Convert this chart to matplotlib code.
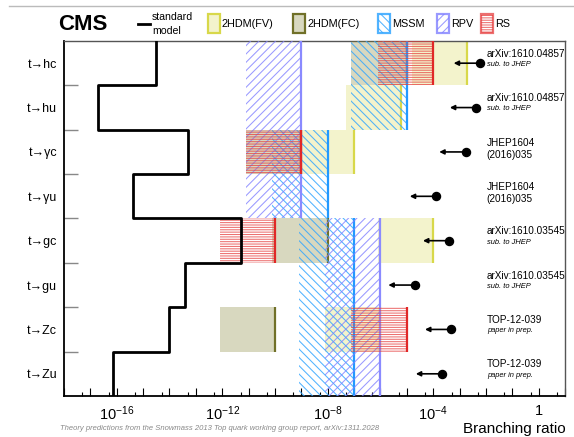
import numpy as np
import matplotlib.pyplot as plt
from matplotlib.patches import Rectangle
from matplotlib.lines import Line2D
from matplotlib.ticker import FixedLocator, FuncFormatter

plt.rcParams['font.family'] = ['Liberation Sans', 'DejaVu Sans']
plt.rcParams['mathtext.fontset'] = 'custom'
plt.rcParams['mathtext.rm'] = 'Liberation Sans'
plt.rcParams['mathtext.it'] = 'Liberation Sans:italic'
plt.rcParams['hatch.linewidth'] = 0.75

nan = np.nan

# decay channels, top to bottom
channels = ['t→hc', 't→hu', 't→γc', 't→γu', 't→gc', 't→gu', 't→Zc', 't→Zu']

# standard model predictions
sm = [3e-15, 2e-17, 5e-14, 4e-16, 5e-12, 4e-14, 1e-14, 7e-17]

# upper values of the BSM predictions (nan = no prediction)
fv = [2e-3, 6e-6, 1e-7, nan, 1e-4, nan, 1e-6, nan]
fc = [1e-5, nan, 1e-9, nan, 1e-8, nan, 1e-10, nan]
mssm = [1e-5, 1e-5, 1e-8, 1e-8, 1e-7, 1e-7, 1e-7, 1e-7]
rpv = [1e-9, 1e-9, 1e-9, 1e-9, 1e-6, 1e-6, 1e-6, 1e-6]
rs = [1e-4, nan, 1e-9, nan, 1e-10, nan, 1e-5, nan]

# CMS 95% CL limits
cms_limit = [6.0e-3, 4.3e-3, 1.7e-3, 1.3e-4, 4.1e-4, 2.0e-5, 4.9e-4, 2.2e-4]
refs = ['arXiv:1610.04857', 'arXiv:1610.04857', 'JHEP1604', 'JHEP1604',
        'arXiv:1610.03545', 'arXiv:1610.03545', 'TOP-12-039', 'TOP-12-039']
notes = ['sub. to JHEP', 'sub. to JHEP', '(2016)035', '(2016)035',
         'sub. to JHEP', 'sub. to JHEP', 'paper in prep.', 'paper in prep.']

box_decades = 2.1  # each prediction drawn as a band below its upper value

W, H = 574, 437
fig = plt.figure(figsize=(W / 100, H / 100), dpi=100)
ax = fig.add_axes([64 / W, 41 / H, 501 / W, 355 / H])
ax.set_xscale('log')
ax.set_xlim(1e-18, 10)
ax.set_ylim(8, 0)

yc = np.arange(len(channels)) + 0.5

# model bands: name, values, face, hatch colour, hatch, edge colour
models = [
    ('2HDM(FV)', fv, (0.85, 0.85, 0.35, 0.3), '#d8d84a', None, '#d8d84a'),
    ('2HDM(FC)', fc, (0.5, 0.5, 0.17, 0.3), '#707028', None, '#707028'),
    ('MSSM', mssm, 'none', (0.2, 0.65, 1.0, 0.85), '\\\\\\\\', '#2299ff'),
    ('RPV', rpv, 'none', (0.5, 0.5, 1.0, 0.8), '////', '#8a8aff'),
    ('RS', rs, 'none', (0.9, 0.25, 0.25, 0.75), '-------', '#e02828'),
]

for z, (name, vals, face, hcol, hatch, ecol) in enumerate(models):
    vals = np.array(vals, float)
    ok = ~np.isnan(vals)
    lo = vals[ok] / 10 ** box_decades
    ax.barh(yc[ok], vals[ok] - lo, left=lo, height=1, color=face,
            edgecolor=hcol, linewidth=0, hatch=hatch, zorder=2 + z)
    ax.vlines(vals[ok], yc[ok] - 0.5, yc[ok] + 0.5, color=ecol, lw=1.6,
              zorder=2.5 + z)

# standard model step outline
xs = np.repeat(sm, 2)
ys = np.repeat(np.arange(len(channels) + 1), 2)[1:-1]
ax.plot(xs, ys, color='k', lw=2, zorder=10)

# CMS limits with arrows
for i, lim in enumerate(cms_limit):
    ax.annotate('', xy=(lim / 10, yc[i]), xytext=(lim, yc[i]),
                arrowprops=dict(arrowstyle='-|>', color='k', lw=1.2,
                                mutation_scale=7, shrinkA=0, shrinkB=0),
                zorder=11)
ax.plot(cms_limit, yc, 'o', color='k', ms=5.8, zorder=12)

tr = ax.get_yaxis_transform()
for i in range(len(channels)):
    ax.text(0.844, yc[i] - 0.21, refs[i], transform=tr, fontsize=7.2,
            va='center', ha='left')
    if notes[i].startswith('('):
        ax.text(0.844, yc[i] + 0.06, notes[i], transform=tr, fontsize=7.2,
                va='center', ha='left')
    else:
        ax.text(0.844, yc[i] + 0.03, notes[i], transform=tr, fontsize=5.4,
                style='italic', va='center', ha='left')

# axes styling
ax.set_yticks(np.arange(1, len(channels)))
ax.set_yticklabels([])
ax.set_yticks(yc, minor=True)
ax.set_yticklabels(channels, minor=True, fontsize=9)
ax.tick_params(axis='y', which='major', direction='in', length=10,
               width=1, color='#888888')
ax.tick_params(axis='y', which='minor', length=0, pad=5)

ax.xaxis.set_major_locator(FixedLocator([10.0 ** k for k in range(-18, 2)]))
ax.xaxis.set_minor_locator(FixedLocator([5 * 10.0 ** k for k in range(-18, 1)]))
labelled = {-16: '$10^{-16}$', -12: '$10^{-12}$', -8: '$10^{-8}$',
            -4: '$10^{-4}$', 0: '1'}
ax.xaxis.set_major_formatter(FuncFormatter(
    lambda v, p: labelled.get(int(round(np.log10(v))), '')))
ax.xaxis.set_minor_formatter(FuncFormatter(lambda v, p: ''))
ax.tick_params(axis='x', which='major', direction='in', length=5.5,
               width=0.8, labelsize=10.5, pad=6)
ax.tick_params(axis='x', which='minor', direction='in', length=3, width=0.8)

for s in ['left', 'bottom']:
    ax.spines[s].set_linewidth(1.3)
    ax.spines[s].set_color('k')
for s in ['top', 'right']:
    ax.spines[s].set_linewidth(1)
    ax.spines[s].set_color('#555555')


def fx(px):
    return px / W


def fy(py):
    return 1 - py / H


# header / legend
fig.add_artist(Line2D([fx(9), fx(574)], [fy(6), fy(6)], color='#bbbbbb', lw=1))
fig.text(fx(58), fy(25), 'CMS', fontsize=16, fontweight='bold', va='center')
fig.add_artist(Line2D([fx(138), fx(150)], [fy(24), fy(24)], color='k', lw=2))
fig.text(fx(152), fy(17), 'standard', fontsize=7.6, va='center')
fig.text(fx(152), fy(31), 'model', fontsize=7.6, va='center')

legend_x = [208, 293, 378, 437, 481]
for (name, vals, face, hcol, hatch, ecol), x0 in zip(models, legend_x):
    if hatch is None:
        fc_ = face
        ec_ = ecol
    else:
        fc_ = 'white'
        ec_ = hcol
    fig.add_artist(Rectangle((fx(x0), fy(33)), 12 / W, 19 / H,
                             transform=fig.transFigure, facecolor=fc_,
                             edgecolor=ec_, hatch=hatch, lw=1.6))
    fig.text(fx(x0 + 14), fy(24), name, fontsize=7.8, va='center')

fig.text(fx(60), fy(429), 'Theory predictions from the Snowmass 2013 Top quark '
         'working group report, arXiv:1311.2028', fontsize=5.5,
         style='italic', color='#888888', va='center')
fig.text(fx(566), fy(436), 'Branching ratio', fontsize=11, ha='right',
         va='bottom')

fig.savefig('out.png', dpi=100)
